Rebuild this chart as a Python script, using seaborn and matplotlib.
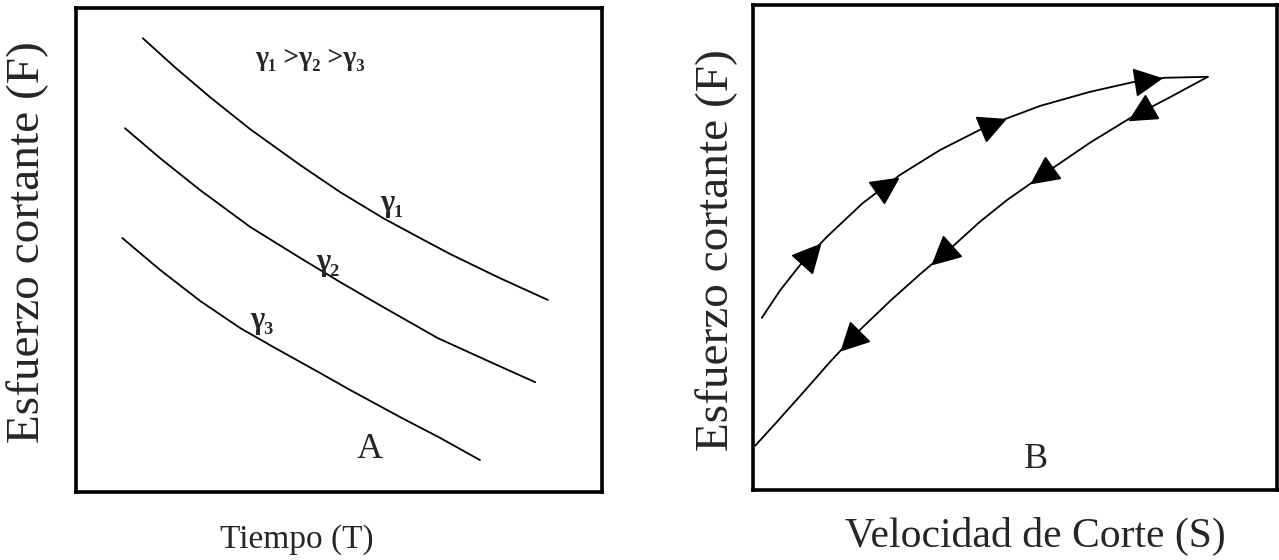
import numpy as np
import matplotlib
matplotlib.use("Agg")
import matplotlib.pyplot as plt
import seaborn as sns
from matplotlib.markers import MarkerStyle
from matplotlib.transforms import Affine2D

# ---------------- data (axes units 0-10) ----------------
# Panel A: shear stress vs time for three shear rates
a_g1_x = [1.27, 1.88, 2.55, 3.31, 4.26, 5.02, 5.84, 6.54, 7.11, 8.06, 8.97]
a_g1_y = [9.38, 8.78, 8.16, 7.50, 6.76, 6.20, 5.66, 5.25, 4.92, 4.42, 3.97]
a_g2_x = [0.93, 1.60, 2.36, 3.31, 4.26, 5.02, 5.78, 6.88, 7.87, 8.73]
a_g2_y = [7.52, 6.90, 6.24, 5.48, 4.84, 4.34, 3.86, 3.18, 2.69, 2.27]
a_g3_x = [0.88, 1.60, 2.36, 3.12, 3.78, 4.64, 5.21, 6.16, 6.92, 7.68]
a_g3_y = [5.25, 4.59, 3.95, 3.39, 2.98, 2.46, 2.11, 1.55, 1.12, 0.66]
a_labels = ["γ₁", "γ₂", "γ₃"]
a_label_x = [6.01, 4.79, 3.54]
a_label_y = [5.97, 4.75, 3.55]
a_relation = "γ₁ >γ₂ >γ₃"

# Panel B: hysteresis loop, shear stress vs shear rate
b_up_x = [0.17, 0.52, 0.90, 1.41, 2.10, 2.81, 3.57, 4.52, 5.48, 6.43, 7.25, 7.86, 8.68]
b_up_y = [3.55, 4.12, 4.64, 5.22, 5.92, 6.50, 7.01, 7.53, 7.92, 8.21, 8.41, 8.50, 8.52]
b_down_x = [8.68, 7.96, 7.20, 6.43, 5.67, 4.85, 4.33, 3.82, 3.19, 2.62, 2.04, 1.47, 0.90, 0.42, 0.04]
b_down_y = [8.52, 8.10, 7.67, 7.16, 6.60, 5.98, 5.53, 5.03, 4.45, 3.90, 3.30, 2.64, 1.94, 1.36, 0.91]
b_up_arrow_x = [1.11, 2.56, 4.58, 7.54]
b_up_arrow_y = [4.87, 6.29, 7.55, 8.45]
b_down_arrow_x = [7.39, 5.52, 3.61, 1.85]
b_down_arrow_y = [7.77, 6.50, 4.85, 3.07]

ylabel_text = "Esfuerzo cortante (F)"
xlabel_a = "Tiempo (T)"
xlabel_b = "Velocidad de Corte (S)"

# ---------------- style ----------------
sns.set_style("white")
plt.rcParams["font.family"] = ["Liberation Serif", "DejaVu Serif"]
serif = ["Liberation Serif", "DejaVu Serif"]

fig = plt.figure(figsize=(12.79, 5.6), dpi=100)
axA = fig.add_axes([0.0594, 0.1214, 0.4113, 0.864])
axB = fig.add_axes([0.5887, 0.125, 0.4097, 0.866])

for ax in (axA, axB):
    ax.set_xlim(0, 10)
    ax.set_ylim(0, 10)
    ax.set_xticks([])
    ax.set_yticks([])
    ax.set_xlabel("")
    ax.set_ylabel("")
    for s in ax.spines.values():
        s.set_visible(True)
        s.set_color("black")
        s.set_linewidth(2.6)

# ---- Panel A ----
for xs, ys in [(a_g1_x, a_g1_y), (a_g2_x, a_g2_y), (a_g3_x, a_g3_y)]:
    sns.lineplot(x=xs, y=ys, ax=axA, color="black", linewidth=1.3, sort=False,
                 estimator=None)
for lab, lx, ly in zip(a_labels, a_label_x, a_label_y):
    axA.text(lx, ly, lab, fontsize=22, fontweight="bold", family=serif,
             ha="center", va="center")
axA.text(4.45, 8.97, a_relation, fontsize=20, fontweight="bold", family=serif,
         ha="center", va="center")
axA.text(5.59, 0.87, "A", fontsize=26, family=serif, ha="center", va="center")

# ---- Panel B ----
sns.lineplot(x=b_up_x, y=b_up_y, ax=axB, color="black", linewidth=1.3,
             sort=False, estimator=None)
sns.lineplot(x=b_down_x, y=b_down_y, ax=axB, color="black", linewidth=1.3,
             sort=False, estimator=None)
axB.text(5.4, 0.62, "B", fontsize=26, family=serif, ha="center", va="center")

fig.canvas.draw()


def tangent_angle(ax, cx, cy, px, py):
    pts = ax.transData.transform(np.column_stack([cx, cy]))
    p = ax.transData.transform([[px, py]])[0]
    d = np.hypot(pts[:, 0] - p[0], pts[:, 1] - p[1])
    i = int(np.argmin(d))
    i0 = max(i - 1, 0)
    i1 = min(i + 1, len(cx) - 1)
    v = pts[i1] - pts[i0]
    return np.degrees(np.arctan2(v[1], v[0]))


for cx, cy, axs, ays in [(b_up_x, b_up_y, b_up_arrow_x, b_up_arrow_y),
                         (b_down_x, b_down_y, b_down_arrow_x, b_down_arrow_y)]:
    for x0, y0 in zip(axs, ays):
        ang = tangent_angle(axB, cx, cy, x0, y0)
        m = MarkerStyle(">", transform=Affine2D().rotate_deg(ang))
        axB.plot([x0], [y0], marker=m, markersize=19, color="black",
                 linestyle="none")

# ---- axis titles ----
fig.text(0.0219, 0.568, ylabel_text, rotation=90, fontsize=34, family=serif,
         ha="center", va="center")
fig.text(0.5606, 0.554, ylabel_text, rotation=90, fontsize=34, family=serif,
         ha="center", va="center")
fig.text(0.2322, 0.0357, xlabel_a, fontsize=24, family=serif,
         ha="center", va="center")
fig.text(0.8092, 0.042, xlabel_b, fontsize=30, family=serif,
         ha="center", va="center")

fig.savefig("out.png", dpi=100)
